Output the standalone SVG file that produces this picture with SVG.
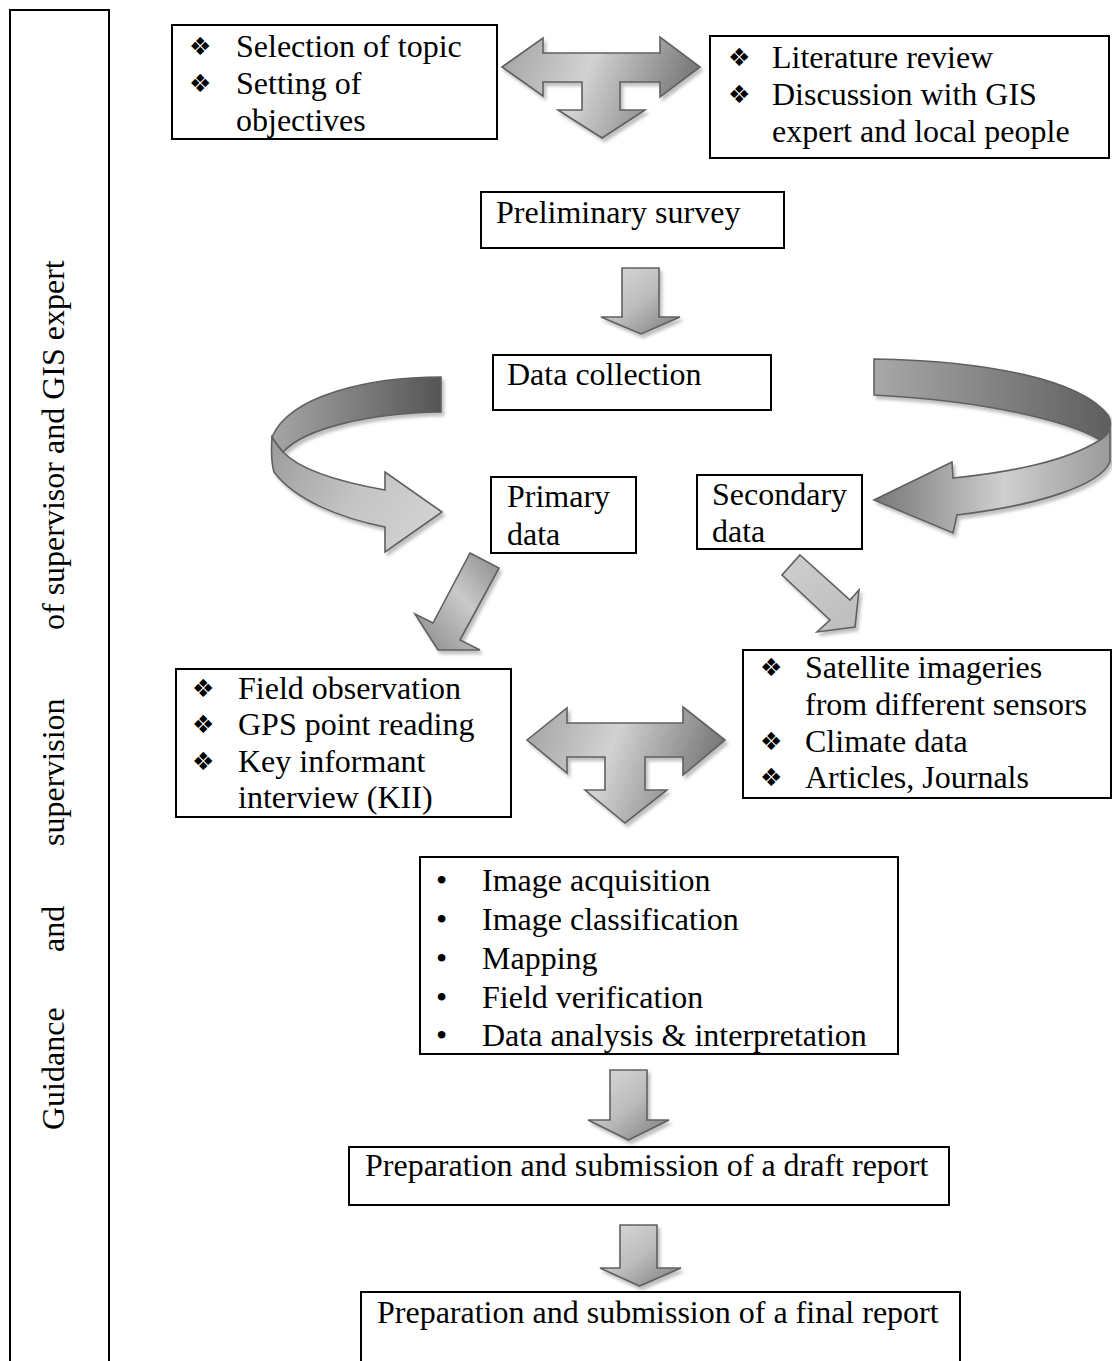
<svg xmlns="http://www.w3.org/2000/svg" width="1112" height="1361" viewBox="0 0 1112 1361">
<style>
.box{fill:#fff;stroke:#000;stroke-width:2}
.t{font-family:"Liberation Serif","Times New Roman",serif;font-size:32px;fill:#000}
.b{font-family:"DejaVu Sans",sans-serif;font-size:25px;fill:#000}
.arr{stroke:#606060;stroke-width:1.6;stroke-linejoin:miter}
</style>
<defs>
<filter id="sh" x="-20%" y="-20%" width="140%" height="140%">
<feDropShadow dx="2.5" dy="3.5" stdDeviation="1.5" flood-color="#8c8c8c" flood-opacity="0.55"/>
</filter>
<linearGradient id="gT" x1="0" y1="0.4" x2="1" y2="0.6">
<stop offset="0" stop-color="#a9a9a9"/>
<stop offset="0.4" stop-color="#d2d2d2"/>
<stop offset="1" stop-color="#6c6c6c"/>
</linearGradient>
<linearGradient id="gD" x1="0" y1="0" x2="1" y2="1">
<stop offset="0" stop-color="#dcdcdc"/>
<stop offset="0.5" stop-color="#bdbdbd"/>
<stop offset="1" stop-color="#7a7a7a"/>
</linearGradient>
<linearGradient id="gLtop" x1="0" y1="0.5" x2="1" y2="0.5">
<stop offset="0" stop-color="#a6a6a6"/>
<stop offset="1" stop-color="#555"/>
</linearGradient>
<linearGradient id="gLlow" x1="0" y1="0" x2="1" y2="0.4">
<stop offset="0" stop-color="#9a9a9a"/>
<stop offset="0.6" stop-color="#c4c4c4"/>
<stop offset="1" stop-color="#d0d0d0"/>
</linearGradient>
<linearGradient id="gRtop" x1="0" y1="0.5" x2="1" y2="0.5">
<stop offset="0" stop-color="#a8a8a8"/>
<stop offset="1" stop-color="#5e5e5e"/>
</linearGradient>
<linearGradient id="gRlow" x1="0" y1="0.5" x2="1" y2="0.5">
<stop offset="0" stop-color="#777"/>
<stop offset="0.55" stop-color="#cfcfcf"/>
<stop offset="1" stop-color="#9a9a9a"/>
</linearGradient>
<linearGradient id="gDL" x1="1" y1="0" x2="0" y2="1">
<stop offset="0" stop-color="#8a8a8a"/>
<stop offset="0.45" stop-color="#c9c9c9"/>
<stop offset="1" stop-color="#888"/>
</linearGradient>
<linearGradient id="gDR" x1="0" y1="0" x2="1" y2="1">
<stop offset="0" stop-color="#cfcfcf"/>
<stop offset="1" stop-color="#bcbcbc"/>
</linearGradient>
</defs>

<g id="side-panel">
<path d="M10,1361 V10 H109 V1361" fill="none" stroke="#000" stroke-width="2"/>
<text class="t" transform="translate(64,1130) rotate(-90)"><tspan x="0">Guidance</tspan><tspan x="178">and</tspan><tspan x="284">supervision</tspan><tspan x="500">of supervisor and GIS expert</tspan></text>
</g>

<g id="connectors">
<path class="arr" filter="url(#sh)" fill="url(#gT)" d="M502,67 L543,38 L543,53 L660,53 L660,37 L700,67 L660,97 L660,82 L620,82 L620,110 L645,110 L602,138 L558,110 L582,110 L582,82 L543,82 L543,96 Z"/>
<path class="arr" filter="url(#sh)" fill="url(#gD)" d="M622,268 L659,268 L659,317 L680,317 L641,334 L601,317 L622,317 Z"/>
<g filter="url(#sh)">
<path class="arr" fill="url(#gLlow)" d="M272,437 C271,452 271,462 274,472 C295,500 340,518 385,527 L385,552 L442,512 L385,472 L385,490 C340,482 300,470 283,452 C279,447 275,442 272,437 Z"/>
<path class="arr" fill="url(#gLtop)" d="M441,377 C370,377 290,395 272,437 C275,442 279,447 283,452 C305,428 370,413 441,412 Z"/>
</g>
<g filter="url(#sh)">
<path class="arr" fill="url(#gRlow)" d="M1100,440 C1106,436 1110,432 1110,428 L1110,462 C1100,485 1040,505 957,515 L953,533 L874,500 L952,462 L953,478 C1010,472 1065,462 1100,440 Z"/>
<path class="arr" fill="url(#gRtop)" d="M874,359 C990,361 1080,380 1108,415 C1112,422 1112,432 1100,440 C1070,422 990,401 874,395 Z"/>
</g>
<path class="arr" filter="url(#sh)" fill="url(#gDL)" d="M470,553 L499,568 L460,640 L480,650 L438,650 L415,614 L433,623 Z"/>
<path class="arr" filter="url(#sh)" fill="url(#gDR)" d="M800,555 L850,600 L859,590 L855,627 L817,632 L830,620 L782,575 Z"/>
<path class="arr" filter="url(#sh)" fill="url(#gT)" d="M527,740 L567,708 L567,723 L683,723 L683,707 L725,740 L683,775 L683,757 L645,757 L645,790 L667,790 L625,823 L585,790 L605,790 L605,757 L567,757 L567,773 Z"/>
<path class="arr" filter="url(#sh)" fill="url(#gD)" d="M610,1070 L647,1070 L647,1120 L669,1120 L628.5,1140 L588,1120 L610,1120 Z"/>
<path class="arr" filter="url(#sh)" fill="url(#gD)" d="M620,1225 L657,1225 L657,1268 L681,1268 L639.5,1286 L600,1268 L620,1268 Z"/>
</g>

<g id="node-topic">
<rect class="box" x="172" y="25" width="325" height="114"/>
<text class="b" x="189" y="55">❖</text><text class="t" x="236" y="57">Selection of topic</text>
<text class="b" x="189" y="92">❖</text><text class="t" x="236" y="94">Setting of</text>
<text class="t" x="236" y="131">objectives</text>
</g>

<g id="node-literature">
<rect class="box" x="710" y="36" width="399" height="122"/>
<text class="b" x="728" y="66">❖</text><text class="t" x="772" y="68">Literature review</text>
<text class="b" x="728" y="103">❖</text><text class="t" x="772" y="105">Discussion with GIS</text>
<text class="t" x="772" y="142">expert and local people</text>
</g>

<g id="node-preliminary">
<rect class="box" x="481" y="192" width="303" height="56"/>
<text class="t" x="496" y="223">Preliminary survey</text>
</g>

<g id="node-datacollection">
<rect class="box" x="493" y="355" width="278" height="55"/>
<text class="t" x="507" y="385">Data collection</text>
</g>

<g id="node-primary">
<rect class="box" x="491" y="477" width="145" height="76"/>
<text class="t" x="507" y="507">Primary</text>
<text class="t" x="507" y="545">data</text>
</g>

<g id="node-secondary">
<rect class="box" x="697" y="475" width="165" height="74"/>
<text class="t" x="712" y="505">Secondary</text>
<text class="t" x="712" y="542">data</text>
</g>

<g id="node-primary-list">
<rect class="box" x="176" y="669" width="335" height="148"/>
<text class="b" x="192" y="697">❖</text><text class="t" x="238" y="699">Field observation</text>
<text class="b" x="192" y="733">❖</text><text class="t" x="238" y="735">GPS point reading</text>
<text class="b" x="192" y="770">❖</text><text class="t" x="238" y="772">Key informant</text>
<text class="t" x="238" y="808">interview (KII)</text>
</g>

<g id="node-secondary-list">
<rect class="box" x="743" y="650" width="368" height="148"/>
<text class="b" x="760" y="676">❖</text><text class="t" x="805" y="678">Satellite imageries</text>
<text class="t" x="805" y="715">from different sensors</text>
<text class="b" x="760" y="750">❖</text><text class="t" x="805" y="752">Climate data</text>
<text class="b" x="760" y="786">❖</text><text class="t" x="805" y="788">Articles, Journals</text>
</g>

<g id="node-processing">
<rect class="box" x="420" y="857" width="478" height="197"/>
<text class="t" x="436" y="891">•</text><text class="t" x="482" y="891">Image acquisition</text>
<text class="t" x="436" y="930">•</text><text class="t" x="482" y="930">Image classification</text>
<text class="t" x="436" y="969">•</text><text class="t" x="482" y="969">Mapping</text>
<text class="t" x="436" y="1008">•</text><text class="t" x="482" y="1008">Field verification</text>
<text class="t" x="436" y="1046">•</text><text class="t" x="482" y="1046">Data analysis &amp; interpretation</text>
</g>

<g id="node-draft">
<rect class="box" x="349" y="1147" width="600" height="58"/>
<text class="t" x="365" y="1176">Preparation and submission of a draft report</text>
</g>

<g id="node-final">
<path d="M361,1361 V1292 H960 V1361" class="box"/>
<text class="t" x="377" y="1323">Preparation and submission of a final report</text>
</g>
</svg>
